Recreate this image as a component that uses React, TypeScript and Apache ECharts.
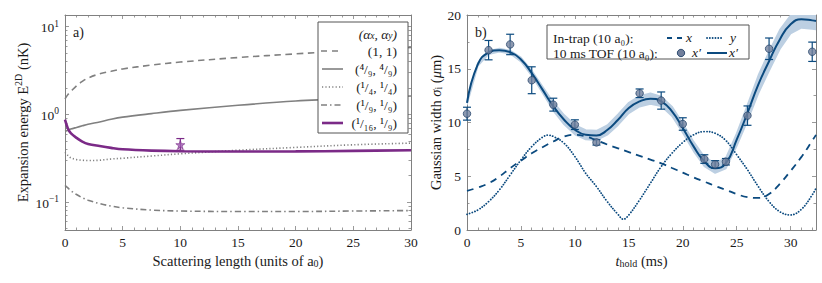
import React, { useEffect, useRef } from 'react';
import * as echarts from 'echarts';

// ---------- Panel a) data ----------
const SCAT_LEN = [0, 0.25, 0.5, 1, 1.5, 2, 3, 4, 5, 7.5, 10, 15, 20, 25, 30];
const E_1_1 = [1.5, 1.68, 1.82, 2.12, 2.38, 2.6, 2.9, 3.1, 3.3, 3.65, 3.95, 4.45, 4.9, 5.35, 5.8];
const E_4_9 = [0.64, 0.66, 0.68, 0.71, 0.74, 0.77, 0.82, 0.88, 0.93, 1.02, 1.11, 1.27, 1.42, 1.53, 1.62];
const E_1_4 = [0.37, 0.34, 0.32, 0.305, 0.3, 0.298, 0.3, 0.31, 0.316, 0.335, 0.355, 0.39, 0.42, 0.45, 0.47];
const E_1_9 = [0.155, 0.145, 0.135, 0.122, 0.112, 0.105, 0.096, 0.09, 0.086, 0.081, 0.079, 0.078, 0.078, 0.079, 0.08];
const E_1_16 = [0.87, 0.69, 0.61, 0.54, 0.49, 0.46, 0.435, 0.415, 0.4, 0.386, 0.38, 0.377, 0.378, 0.383, 0.39];
const MEAS_A = [10];
const MEAS_E = [0.45];
const MEAS_LO = [0.39];
const MEAS_HI = [0.53];
const LOG_MAJOR = [0.1, 1, 10];
const LOG_MINOR = [0.05, 0.06, 0.07, 0.08, 0.09, 0.2, 0.3, 0.4, 0.5, 0.6, 0.7, 0.8, 0.9, 2, 3, 4, 5, 6, 7, 8, 9];
const A_MAJOR = [0, 5, 10, 15, 20, 25, 30];
const A_MINOR = [1, 2, 3, 4, 6, 7, 8, 9, 11, 12, 13, 14, 16, 17, 18, 19, 21, 22, 23, 24, 26, 27, 28, 29];

// ---------- Panel b) data ----------
const T_CURVE = [0, 1, 2, 3, 4, 5, 6, 7, 8, 9, 10, 11, 12, 13, 14, 15, 16, 17, 18, 19, 20, 21, 22, 23, 24, 25, 26, 27, 28, 29, 30, 31, 32, 32.35];
const FIT_X = [11.82, 15.4, 16.5, 16.73, 16.55, 15.86, 14.6, 13.06, 11.5, 10.26, 9.33, 8.86, 8.8, 9.3, 10.26, 11.35, 11.97, 12.22, 11.97, 11.04, 9.49, 7.78, 6.38, 5.75, 6.22, 8.4, 10.89, 13.53, 15.7, 17.73, 19.13, 19.6, 19.5, 19.44];
const FIT_ERR = [0.15, 0.15, 0.15, 0.15, 0.15, 0.2, 0.25, 0.3, 0.4, 0.45, 0.45, 0.45, 0.45, 0.45, 0.5, 0.5, 0.5, 0.5, 0.45, 0.45, 0.45, 0.45, 0.45, 0.45, 0.5, 0.6, 0.75, 0.85, 0.9, 0.9, 0.85, 0.8, 0.8, 0.8];
const TRAP_X = [3.63, 3.95, 4.35, 4.97, 5.75, 6.45, 7.14, 7.7, 8.23, 8.7, 8.85, 8.7, 8.35, 7.95, 7.6, 7.25, 6.9, 6.55, 6.2, 5.77, 5.34, 4.9, 4.5, 4.1, 3.73, 3.35, 3.05, 2.98, 3.35, 4.3, 5.5, 6.8, 8.3, 8.85];
const T_TRAP_Y = [0, 1, 2, 3, 4, 5, 6, 7, 7.5, 8, 9, 10, 11, 12, 13, 14, 14.5, 15, 16, 17, 18, 19, 20, 21, 22, 23, 24, 25, 26, 27, 28, 29, 30, 31, 32, 32.35];
const TRAP_Y = [1.46, 1.86, 2.64, 3.73, 5.12, 6.52, 7.76, 8.63, 8.82, 8.7, 8.07, 6.83, 5.28, 4.04, 2.64, 1.45, 1.0, 1.4, 2.8, 4.35, 5.9, 7.14, 8.14, 8.85, 9.16, 9.0, 8.32, 7.0, 5.6, 4.04, 2.64, 1.7, 1.4, 1.93, 3.26, 3.88];
const T_MEAS = [0, 2, 4, 6, 8, 10, 12, 16, 18, 20, 22, 23, 24, 26, 28, 32];
const SIGMA_MEAS = [10.82, 16.73, 17.26, 13.93, 11.66, 9.8, 8.15, 12.72, 12.04, 9.86, 6.6, 6.1, 6.35, 10.64, 16.86, 16.58];
const SIGMA_ERR = [0.6, 0.9, 0.95, 1.25, 0.6, 0.45, 0.25, 0.4, 0.8, 0.58, 0.4, 0.35, 0.3, 0.9, 1.0, 0.9];
const T_MAJOR = [0, 5, 10, 15, 20, 25, 30];
const T_MINOR = [1, 2, 3, 4, 6, 7, 8, 9, 11, 12, 13, 14, 16, 17, 18, 19, 21, 22, 23, 24, 26, 27, 28, 29, 31, 32];
const S_MAJOR = [0, 5, 10, 15, 20];
const S_MINOR = [2.5, 7.5, 12.5, 17.5];

const FONT = 'Liberation Serif';
const TICK_FS = 13.5;
const NAME_FS = 14.5;
const LEG_FS = 13.5;
const TXT = '#1a1a1a';
const FRAME = '#808080';
const GRAY = '#808080';
const PURPLE = '#7b2a87';
const BLUE = '#0b4a7f';
const BAND = '#bccfe2';

const zip = (xs: number[], ys: number[]) => xs.map((x, i) => [x, ys[i]]);

function axis(dim: 'x' | 'y', grid: number, position: string, type: string, min: number, max: number,
  ticks: number[], len: number, line: boolean, labels?: number[], fmt?: any, rich?: any, extra?: any) {
  const a: any = {
    type, gridIndex: grid, position, min, max,
    axisLine: { show: line, onZero: false, lineStyle: { color: FRAME, width: 1 } },
    axisTick: { show: true, inside: true, length: len, customValues: ticks, lineStyle: { color: FRAME, width: 0.8 } },
    axisLabel: labels ? {
      show: true, customValues: labels, formatter: fmt, margin: dim === 'x' ? 5 : 6,
      fontFamily: FONT, fontSize: TICK_FS, color: TXT, rich,
    } : { show: false },
    splitLine: { show: false },
    minorTick: { show: false },
    ...extra,
  };
  if (type === 'log') a.logBase = 10;
  return a;
}

const supRich = {
  b: { fontFamily: FONT, fontSize: TICK_FS, color: TXT, lineHeight: 16, verticalAlign: 'bottom' },
  p: { fontFamily: FONT, fontSize: 9.5, color: TXT, lineHeight: 9, verticalAlign: 'top' },
};
const logFmt = (v: number) => {
  const e = Math.round(Math.log10(v));
  return '{b|10}{p|' + (e < 0 ? '\u2212' + -e : String(e)) + '}';
};

const nameRich = {
  n: { fontFamily: FONT, fontSize: NAME_FS, color: TXT, lineHeight: 17, verticalAlign: 'bottom' },
  i: { fontFamily: FONT, fontSize: NAME_FS, color: TXT, fontStyle: 'italic', lineHeight: 17, verticalAlign: 'bottom' },
  s: { fontFamily: FONT, fontSize: 10, color: TXT, lineHeight: 6, verticalAlign: 'bottom' },
  p: { fontFamily: FONT, fontSize: 10, color: TXT, lineHeight: 9, verticalAlign: 'top' },
};

function errorBars(xAxisIndex: number, yAxisIndex: number, data: number[][], color: string, hw: number, lw: number) {
  return {
    type: 'custom', xAxisIndex, yAxisIndex, data, z: 3,
    encode: { x: 0, y: [1, 2] },
    renderItem: (params: any, api: any) => {
      const x = api.value(0);
      const top = api.coord([x, api.value(2)]);
      const bot = api.coord([x, api.value(1)]);
      const st = { stroke: color, lineWidth: lw };
      return {
        type: 'group', children: [
          { type: 'line', shape: { x1: top[0], y1: top[1], x2: bot[0], y2: bot[1] }, style: st },
          { type: 'line', shape: { x1: top[0] - hw, y1: top[1], x2: top[0] + hw, y2: top[1] }, style: st },
          { type: 'line', shape: { x1: bot[0] - hw, y1: bot[1], x2: bot[0] + hw, y2: bot[1] }, style: st },
        ],
      };
    },
  };
}

const STAR_PATH = 'path://M50,0 L61.8,35.4 L100,35.4 L69.1,57.3 L80.9,92.7 L50,70.8 L19.1,92.7 L30.9,57.3 L0,35.4 L38.2,35.4 Z';

function buildOption(): any {
  const A_MIN = 0.048, A_MAX = 13.6;
  const X_MAX_B = 32.35;
  const xAxis = [
    axis('x', 0, 'bottom', 'value', 0, 30, A_MAJOR, 4, true, A_MAJOR, undefined, undefined, {
      name: '{n|Scattering length (units of a}{s|0}{n|)}', nameLocation: 'middle', nameGap: 21,
      nameTextStyle: { rich: nameRich },
    }),
    axis('x', 0, 'bottom', 'value', 0, 30, A_MINOR, 2.5, false),
    axis('x', 0, 'top', 'value', 0, 30, A_MAJOR, 4, true),
    axis('x', 0, 'top', 'value', 0, 30, A_MINOR, 2.5, false),
    axis('x', 1, 'bottom', 'value', 0, X_MAX_B, T_MAJOR, 4, true, T_MAJOR, undefined, undefined, {
      name: '{i|t}{s|hold}{n| (ms)}', nameLocation: 'middle', nameGap: 21,
      nameTextStyle: { rich: nameRich },
    }),
    axis('x', 1, 'bottom', 'value', 0, X_MAX_B, T_MINOR, 2.5, false),
    axis('x', 1, 'top', 'value', 0, X_MAX_B, T_MAJOR, 4, true),
    axis('x', 1, 'top', 'value', 0, X_MAX_B, T_MINOR, 2.5, false),
  ];
  const yAxis = [
    axis('y', 0, 'left', 'log', A_MIN, A_MAX, LOG_MAJOR, 4, true, LOG_MAJOR, logFmt, supRich, {
      name: '{n|Expansion energy E}{p|2D}{n| (nK)}', nameLocation: 'middle', nameGap: 35,
      nameTextStyle: { rich: nameRich },
    }),
    axis('y', 0, 'left', 'log', A_MIN, A_MAX, LOG_MINOR, 2.5, false),
    axis('y', 0, 'right', 'log', A_MIN, A_MAX, LOG_MAJOR, 4, true),
    axis('y', 0, 'right', 'log', A_MIN, A_MAX, LOG_MINOR, 2.5, false),
    axis('y', 1, 'left', 'value', 0, 20, S_MAJOR, 4, true, S_MAJOR, undefined, undefined, {
      name: '{n|Gaussian width }{i|\u03c3}{s|i}{n| (}{i|\u03bc}{n|m)}', nameLocation: 'middle', nameGap: 23,
      nameTextStyle: { rich: nameRich },
    }),
    axis('y', 1, 'left', 'value', 0, 20, S_MINOR, 2.5, false),
    axis('y', 1, 'right', 'value', 0, 20, S_MAJOR, 4, true),
    axis('y', 1, 'right', 'value', 0, 20, S_MINOR, 2.5, false),
  ];

  const lineA = (data: number[], color: string, width: number, type: any, z = 2) => ({
    type: 'line', xAxisIndex: 0, yAxisIndex: 0, data: zip(SCAT_LEN, data), showSymbol: false, symbol: 'none',
    smooth: 0.35, z, lineStyle: { color, width, type, cap: 'butt' },
  });

  const bandData = T_CURVE.map((t, i) => [t, FIT_X[i] - FIT_ERR[i], FIT_X[i] + FIT_ERR[i]]);
  const bandSeries = {
    type: 'custom', xAxisIndex: 4, yAxisIndex: 4, data: bandData, z: 1,
    encode: { x: 0, y: [1, 2] },
    clip: true,
    renderItem: (params: any, api: any) => {
      if (params.dataIndex !== 0) return null;
      const upper = bandData.map((d) => api.coord([d[0], d[2]]));
      const lower = bandData.map((d) => api.coord([d[0], d[1]])).reverse();
      const cs = params.coordSys;
      return {
        type: 'group',
        clipPath: { type: 'rect', shape: { x: cs.x, y: cs.y, width: cs.width, height: cs.height } },
        children: [
          { type: 'polygon', shape: { points: upper.concat(lower), smooth: 0 }, style: { fill: BAND, stroke: BAND, lineWidth: 1.5, lineJoin: 'round' } },
        ],
      };
    },
  };

  const series: any[] = [
    lineA(E_1_1, GRAY, 1.6, [6.5, 4.5]),
    lineA(E_4_9, GRAY, 1.6, 'solid'),
    lineA(E_1_4, GRAY, 1.6, [1.2, 2.2]),
    lineA(E_1_9, GRAY, 1.6, [6, 3, 1.5, 3]),
    lineA(E_1_16, PURPLE, 2.6, 'solid', 3),
    errorBars(0, 0, MEAS_A.map((a, i) => [a, MEAS_LO[i], MEAS_HI[i]]), PURPLE, 4, 1.2),
    {
      type: 'scatter', xAxisIndex: 0, yAxisIndex: 0, data: zip(MEAS_A, MEAS_E), symbol: STAR_PATH, symbolSize: 9, z: 4,
      itemStyle: { color: '#a05cb3', borderColor: PURPLE, borderWidth: 0.8 },
    },
    bandSeries,
    {
      type: 'line', xAxisIndex: 4, yAxisIndex: 4, data: zip(T_CURVE, TRAP_X), smooth: true, showSymbol: false, symbol: 'none', z: 2,
      lineStyle: { color: BLUE, width: 1.8, type: [7, 5.5] },
    },
    {
      type: 'line', xAxisIndex: 4, yAxisIndex: 4, data: zip(T_TRAP_Y, TRAP_Y), smooth: 0.4, showSymbol: false, symbol: 'none', z: 2,
      lineStyle: { color: BLUE, width: 1.8, type: [0.1, 2.7], cap: 'round' },
    },
    {
      type: 'line', xAxisIndex: 4, yAxisIndex: 4, data: zip(T_CURVE, FIT_X), smooth: true, showSymbol: false, symbol: 'none', z: 3,
      lineStyle: { color: BLUE, width: 2 },
    },
    errorBars(4, 4, T_MEAS.map((t, i) => [t, SIGMA_MEAS[i] - SIGMA_ERR[i], SIGMA_MEAS[i] + SIGMA_ERR[i]]), BLUE, 4, 1.2),
    {
      type: 'scatter', xAxisIndex: 4, yAxisIndex: 4, data: zip(T_MEAS, SIGMA_MEAS), symbol: 'circle', symbolSize: 7.5, z: 5,
      itemStyle: { color: '#717f9c', borderColor: '#1f3f66', borderWidth: 0.9 },
    },
  ];

  const t = (x: number, y: number, text: string, align: string, italic = false, fs = LEG_FS) => ({
    type: 'text', x, y, z: 101,
    style: { text, fill: TXT, fontFamily: FONT, fontSize: fs, fontStyle: italic ? 'italic' : 'normal', align, verticalAlign: 'middle' },
  });
  const seg = (x1: number, x2: number, y: number, stroke: string, lineWidth: number, lineDash?: number[], cap = 'butt') => ({
    type: 'line', z: 101, shape: { x1, y1: y, x2, y2: y }, style: { stroke, lineWidth, lineDash, lineCap: cap },
  });

  const legRows = [51, 69, 87, 105, 123];
  const graphic: any[] = [
    t(73, 32, 'a)', 'left', false, 14),
    t(475, 32, 'b)', 'left', false, 14),
    { type: 'rect', z: 100, shape: { x: 318, y: 22, width: 90, height: 111 }, style: { fill: '#fff', stroke: '#555', lineWidth: 1 } },
    {
      type: 'text', x: 397, y: 33, z: 101,
      style: {
        text: '{n|(\u03b1}{s|x}{n|, \u03b1}{s|y}{n|)}', align: 'right', verticalAlign: 'middle',
        rich: {
          n: { fontFamily: FONT, fontSize: LEG_FS, fontStyle: 'italic', fill: TXT, lineHeight: 16, verticalAlign: 'bottom' },
          s: { fontFamily: FONT, fontSize: 9.5, fontStyle: 'italic', fill: TXT, lineHeight: 6, verticalAlign: 'bottom' },
        },
      },
    },
    t(397, legRows[0], '(1, 1)', 'right'),
    t(397, legRows[1], '(\u2074/\u2089, \u2074/\u2089)', 'right'),
    t(397, legRows[2], '(\u00b9/\u2084, \u00b9/\u2084)', 'right'),
    t(397, legRows[3], '(\u00b9/\u2089, \u00b9/\u2089)', 'right'),
    t(397, legRows[4], '(\u00b9/\u2081\u2086, \u00b9/\u2089)', 'right'),
    seg(321, 339, legRows[0], GRAY, 1.6, [6, 5]),
    seg(322, 343, legRows[1], GRAY, 1.6),
    seg(322, 343, legRows[2], GRAY, 1.6, [1.2, 2.2]),
    seg(321, 343, legRows[3], GRAY, 1.6, [6, 3, 1.5, 3]),
    seg(322, 343, legRows[4], PURPLE, 2.6),
    { type: 'rect', z: 100, shape: { x: 547, y: 25, width: 202, height: 34 }, style: { fill: '#fff', stroke: '#555', lineWidth: 1 } },
    t(553, 38, 'In-trap (10 a\u2080):', 'left'),
    seg(667, 684, 38, BLUE, 1.8, [5, 5]),
    t(686, 37, 'x', 'left', true),
    seg(707, 722, 38, BLUE, 1.8, [0.1, 2.7], 'round'),
    t(730, 37, 'y', 'left', true),
    t(553, 53, '10 ms TOF (10 a\u2080):', 'left'),
    { type: 'circle', z: 101, shape: { cx: 681, cy: 53, r: 3.7 }, style: { fill: '#717f9c', stroke: '#1f3f66', lineWidth: 0.9 } },
    t(692, 52, 'x\u2032', 'left', true),
    seg(707, 727, 53, BLUE, 2),
    t(729, 52, 'x\u2032', 'left', true),
  ];

  return {
    animation: false,
    backgroundColor: '#fff',
    textStyle: { fontFamily: FONT },
    grid: [
      { left: 65, top: 15, width: 346, height: 215 },
      { left: 467, top: 15, width: 349, height: 215 },
    ],
    xAxis, yAxis, series, graphic,
  };
}

export default function App() {
  const ref = useRef<HTMLDivElement>(null);
  useEffect(() => {
    document.body.style.margin = '0';
    const chart = echarts.init(ref.current!, undefined, { renderer: 'svg' });
    chart.setOption(buildOption());
    return () => chart.dispose();
  }, []);
  return <div ref={ref} style={{ width: 822, height: 283 }} />;
}
